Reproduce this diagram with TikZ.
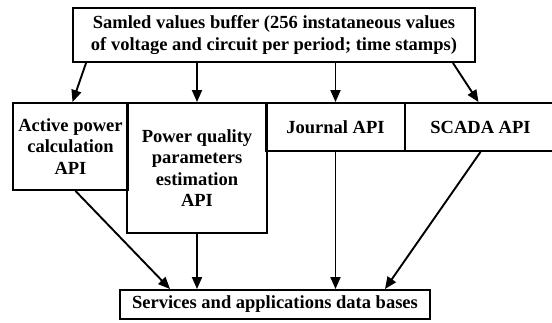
\documentclass[tikz,border=0pt]{standalone}
\usepackage{fontspec}
\setmainfont{Liberation Serif}
\usetikzlibrary{arrows.meta,calc}
\begin{document}
\begin{tikzpicture}[x=1pt,y=-1pt,
  box/.style={draw,line width=1.9pt,inner sep=0pt,align=center,
    font=\fontsize{18.5}{21.5}\selectfont\bfseries},
  conn/.style={line width=1.9pt,-{Triangle[length=12pt,width=10pt]}}]
\useasboundingbox (0,0) rectangle (552,322);
\node[box,minimum width=402pt,minimum height=54pt] (top) at (274,35)
  {Samled values buffer (256 instataneous values\\of voltage and circuit per period; time stamps)};
\node[box,minimum width=115pt,minimum height=87pt] (act) at (70.5,146.5)
  {Active power\\calculation\\API};
\node[box,minimum width=140pt,minimum height=130pt] (pq) at (197,168)
  {Power quality\\parameters\\estimation\\API};
\node[box,minimum width=139pt,minimum height=48pt] (jr) at (335.5,127)
  {Journal API};
\node[box,minimum width=151pt,minimum height=48pt] (sc) at (480.5,127)
  {SCADA API};
\node[box,minimum width=310pt,minimum height=29pt] (db) at (275,304.5)
  {Services and applications data bases};
\draw[conn] ($(top.south west)+(14,0)$) -- ([xshift=2pt]act.north);
\draw[conn] (top.south -| pq.north) -- (pq.north);
\draw[conn] (top.south -| jr.north) -- (jr.north);
\draw[conn] ($(top.south east)+(-23,0)$) -- ([xshift=-2pt]sc.north);
\draw[conn] ([xshift=5pt]act.south) -- ($(db.north west)+(51,0)$);
\draw[conn] (pq.south) -- (pq.south |- db.north);
\draw[conn] (jr.south) -- (jr.south |- db.north);
\draw[conn] (sc.south) -- ($(db.north east)+(-46,0)$);
\end{tikzpicture}
\end{document}
